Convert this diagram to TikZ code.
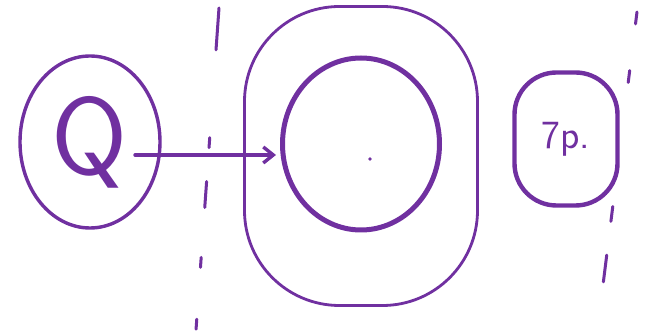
\documentclass[tikz,border=0pt]{standalone}
\usepackage{tikz}
\usetikzlibrary{arrows.meta,shapes.geometric}
\definecolor{penpurple}{RGB}{112,48,160}

\begin{document}
\begin{tikzpicture}[x=1pt, y=-1pt,
    ring/.style={ellipse, draw=penpurple, inner sep=0pt, text=penpurple},
    blob/.style={rectangle, draw=penpurple, inner sep=0pt, text=penpurple},
    arr/.style={-{Straight Barb[length=10pt,width=16pt]}, line width=3.4pt, draw=penpurple, line cap=round},
    cutline/.style={draw=penpurple, line width=3pt, line cap=round}
  ]
  \useasboundingbox (0,0) rectangle (649,336);

  % cut lines
  \draw[cutline, dash pattern=on 42pt off 88pt on 10pt off 34pt on 26pt off 50pt on 10pt off 52pt on 10pt]
    (219,8) -- (196,330);
  \draw[cutline, dash pattern=on 12pt off 47pt on 12pt off 125pt on 15pt off 34pt on 27pt]
    (637,12) -- (603,285);

  % nodes
  \node[ring, line width=3.4pt, minimum width=140pt, minimum height=172pt,
        font=\sffamily\fontsize{110}{110}\selectfont] (q) at (90,142) {Q};
  \node[blob, line width=2.8pt, rounded corners=95pt, minimum width=233pt, minimum height=299pt] (outer) at (361,156) {};
  \node[ring, line width=5pt, minimum width=157pt, minimum height=172pt] (inner) at (361,144) {};
  \node[blob, line width=4.4pt, rounded corners=42pt, minimum width=103pt, minimum height=133pt,
        font=\sffamily\fontsize{40}{40}\selectfont] (tp) at (566,139) {7p.};
  \fill[penpurple] (370,159) circle (1.8pt);

  % arrow
  \coordinate (arrstart) at (135,155);
  \coordinate (arrend) at (276,155);
  \draw[arr] (arrstart) -- (arrend);
\end{tikzpicture}
\end{document}
